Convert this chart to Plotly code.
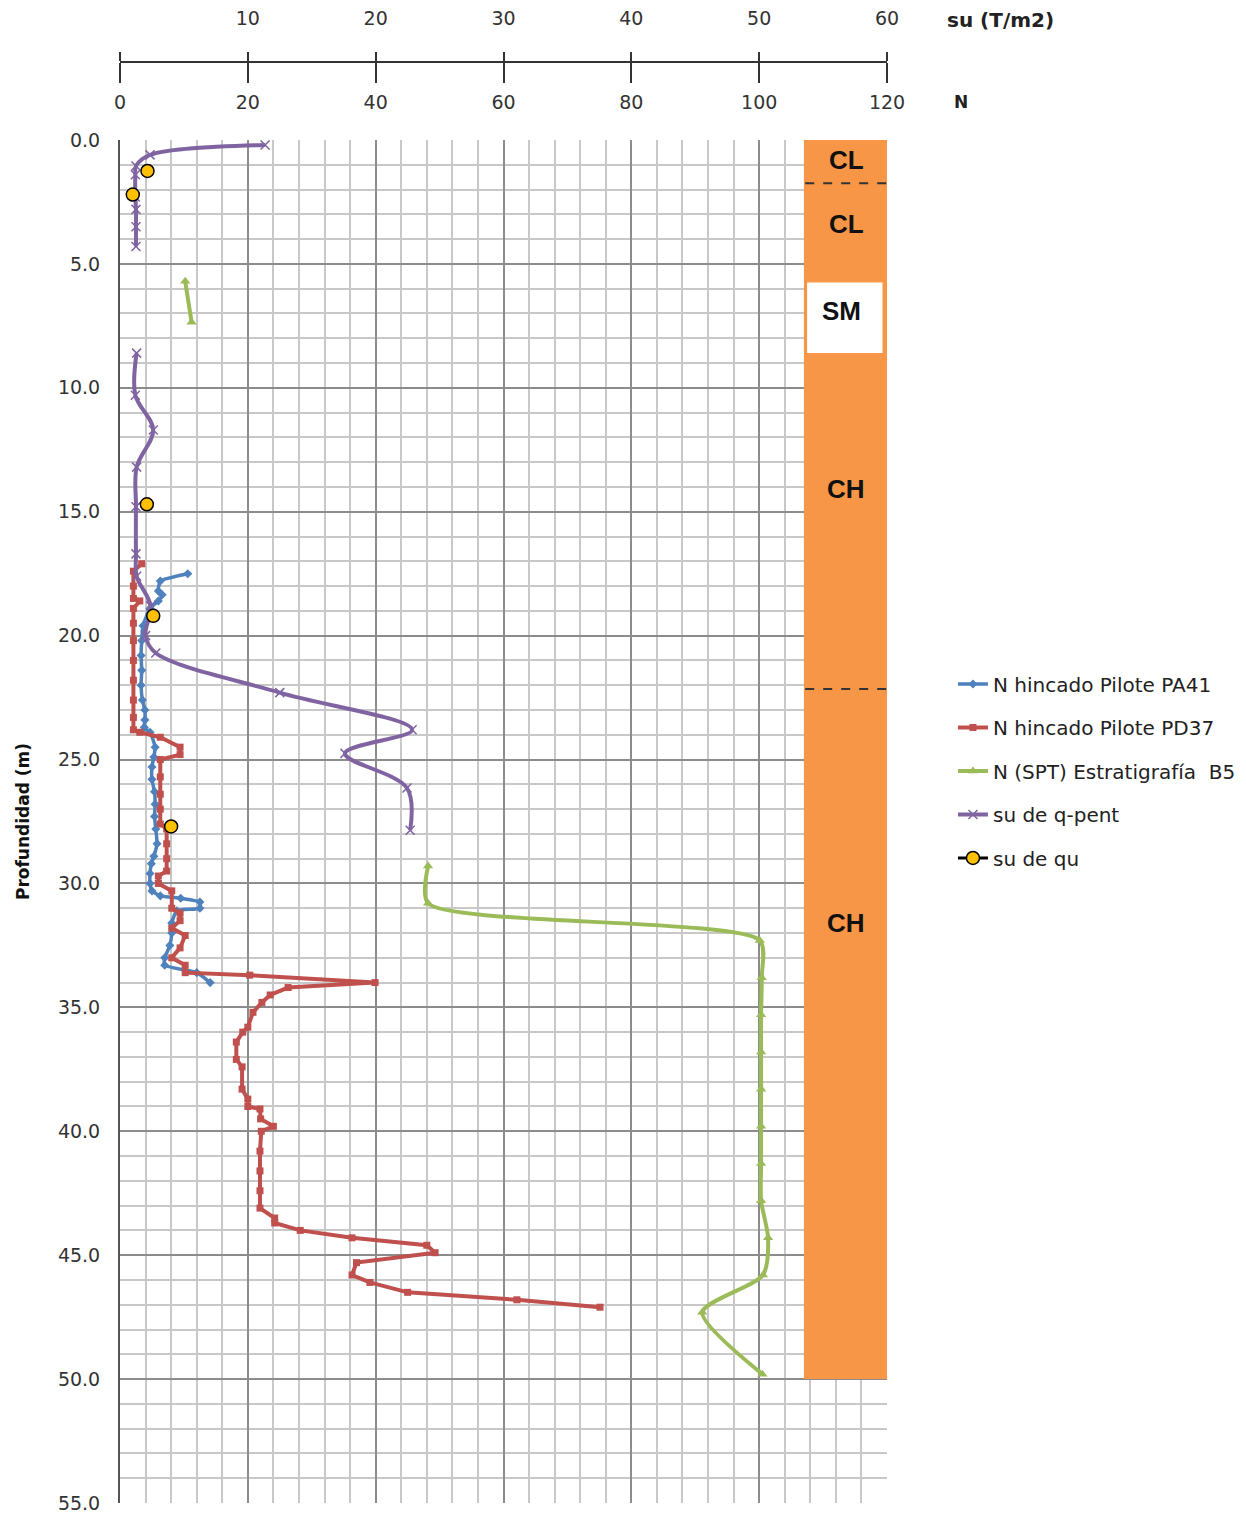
import plotly.graph_objects as go

# ---------------- data ----------------
# N hincado Pilote PA41 (N, depth m)
pa41_n = [10.6, 6.3, 6.0, 6.6, 6.0, 4.7, 3.6, 3.4, 3.3, 3.4, 3.3, 3.5, 3.9, 3.9, 3.8, 4.7, 5.5, 5.3,
          5.0, 5.0, 5.4, 5.5, 5.4, 5.6, 5.8, 5.3, 4.9, 4.7, 4.7, 5.0, 6.3, 9.5, 12.5, 12.5, 8.9,
          8.1, 8.1, 7.8, 7.0, 7.0, 12.0, 14.1]
pa41_d = [17.5, 17.8, 18.2, 18.35, 18.6, 18.9, 19.6, 20.2, 20.8, 21.4, 22.0, 22.6, 23.0, 23.4, 23.7,
          23.9, 24.5, 24.9, 25.3, 25.8, 26.3, 26.8, 27.3, 27.8, 28.4, 28.9, 29.2, 29.6, 30.0, 30.3,
          30.5, 30.6, 30.75, 31.0, 31.1, 31.6, 32.0, 32.5, 33.0, 33.3, 33.6, 34.0]

# N hincado Pilote PD37 (N, depth m)
pd37_n = [3.4, 2.1, 2.1, 2.1, 3.1, 2.1, 2.1, 2.1, 2.1, 2.1, 2.1, 2.1, 2.1, 3.1, 6.3, 9.4, 9.4, 6.3,
          6.3, 6.3, 6.3, 6.3, 7.3, 7.3, 7.3, 7.3, 6.0, 6.0, 8.1, 8.1, 9.4, 9.4, 8.1, 10.2, 9.4, 8.1,
          10.2, 10.2, 20.3, 39.9, 26.3, 23.5, 22.2, 20.8, 20.0, 19.2, 18.2, 18.2, 19.1, 19.1, 20.0,
          20.0, 21.9, 22.0, 24.0, 22.1, 21.9, 21.9, 21.9, 21.9, 24.2, 24.2, 28.2, 36.3, 48.0, 49.3,
          37.0, 36.3, 39.1, 45.0, 62.1, 75.1]
pd37_d = [17.1, 17.4, 18.0, 18.5, 18.6, 18.9, 19.5, 20.2, 21.0, 21.8, 22.6, 23.3, 23.8, 23.9, 24.1,
          24.5, 24.8, 25.0, 25.7, 26.4, 27.0, 27.6, 27.8, 28.4, 29.0, 29.5, 29.7, 30.0, 30.3, 31.0,
          31.2, 31.5, 31.8, 32.1, 32.6, 33.0, 33.3, 33.6, 33.7, 34.0, 34.2, 34.5, 34.8, 35.2, 35.8,
          36.0, 36.4, 37.1, 37.4, 38.3, 38.7, 39.0, 39.1, 39.5, 39.8, 40.0, 40.8, 41.6, 42.4, 43.1,
          43.5, 43.7, 44.0, 44.3, 44.6, 44.9, 45.3, 45.8, 46.1, 46.5, 46.8, 47.1]

# N (SPT) Estratigrafia B5 (None = gap)
spt_n = [10.2, 11.2, None, 48.2, 48.2, 100.1, 100.4, 100.3, 100.3, 100.3, 100.3, 100.3, 100.3,
         101.4, 100.6, 91.1, 100.5]
spt_d = [5.7, 7.35, None, 29.3, 30.8, 32.3, 33.8, 35.3, 36.8, 38.3, 39.8, 41.3, 42.8,
         44.3, 45.8, 47.3, 49.8]

# su de q-pent (T/m2)
supent_su = [11.35, 2.35, 1.25, 1.2, 1.2, 1.25, 1.25, 1.25, None,
             1.3, 1.2, 2.6, 1.3, 1.25, 1.25, 1.3, 2.4, 2.0, 2.8, 12.5, 22.85, 17.6, 22.45, 22.7]
supent_d = [0.2, 0.6, 1.05, 1.4, 2.3, 2.8, 3.5, 4.3, None,
            8.6, 10.3, 11.7, 13.2, 14.8, 16.7, 17.6, 18.8, 20.0, 20.7, 22.3, 23.8, 24.75, 26.15, 27.85]

# su de qu (T/m2)
suqu_su = [2.15, None, 1.0, None, 2.1, None, 2.6, None, 4.0]
suqu_d = [1.25, None, 2.2, None, 14.7, None, 19.2, None, 27.7]

# axes ticks
depth_ticks = [0, 5, 10, 15, 20, 25, 30, 35, 40, 45, 50, 55]
depth_ticktext = ["0.0", "5.0", "10.0", "15.0", "20.0", "25.0", "30.0", "35.0", "40.0", "45.0", "50.0", "55.0"]
n_ticks = [0, 20, 40, 60, 80, 100, 120]
su_ticks = [0, 10, 20, 30, 40, 50, 60]
su_ticktext = ["", "10", "20", "30", "40", "50", "60"]

# stratigraphy
strata_labels = ["CL", "CL", "SM", "CH", "CH"]
strata_label_depth = [0.8, 3.4, 6.9, 14.1, 31.6]
contact_depths = [1.75, 22.15]
sm_top, sm_bottom = 5.75, 8.6
column_bottom = 50.0

# ---------------- figure ----------------
FONT = "DejaVu Sans"
BLUE, RED, GREEN, PURPLE, YELLOW = "#4F81BD", "#C0504D", "#9BBB59", "#8064A2", "#FFC000"

fig = go.Figure()
fig.add_trace(go.Scatter(x=pa41_n, y=pa41_d, mode="lines+markers", name="N hincado Pilote PA41",
                         line=dict(color=BLUE, width=3.5, shape="spline", smoothing=0.5),
                         marker=dict(symbol="diamond", size=7, color=BLUE),
                         legendgroup="a", xaxis="x", yaxis="y"))
fig.add_trace(go.Scatter(x=pd37_n, y=pd37_d, mode="lines+markers", name="N hincado Pilote PD37",
                         line=dict(color=RED, width=4),
                         marker=dict(symbol="square", size=7, color=RED),
                         legendgroup="b", xaxis="x", yaxis="y"))
fig.add_trace(go.Scatter(x=spt_n, y=spt_d, mode="lines+markers", name="N (SPT) Estratigrafía  B5",
                         line=dict(color=GREEN, width=4, shape="spline", smoothing=0.7),
                         marker=dict(symbol="triangle-up", size=9, color=GREEN),
                         legendgroup="c", xaxis="x3", yaxis="y"))
fig.add_trace(go.Scatter(x=supent_su, y=supent_d, mode="lines+markers", name="su de q-pent",
                         line=dict(color=PURPLE, width=4, shape="spline"),
                         marker=dict(symbol="x-thin", size=9, color=PURPLE,
                                     line=dict(color=PURPLE, width=1.5)),
                         legendgroup="d", xaxis="x2", yaxis="y"))
fig.add_trace(go.Scatter(x=suqu_su, y=suqu_d, mode="lines+markers", name="su de qu",
                         line=dict(color="black", width=3),
                         marker=dict(symbol="circle", size=13, color=YELLOW,
                                     line=dict(color="black", width=1.5)),
                         legendgroup="e", xaxis="x2", yaxis="y"))

# stratigraphic column
shapes = [
    dict(type="rect", xref="x", yref="y", x0=107, x1=120, y0=0, y1=column_bottom,
         fillcolor="#F79646", line=dict(width=0), layer="above"),
    dict(type="rect", xref="x", yref="y", x0=107.5, x1=119.3, y0=sm_top, y1=sm_bottom,
         fillcolor="white", line=dict(width=0), layer="above"),
]
for d in contact_depths:
    shapes.append(dict(type="line", xref="x", yref="y", x0=107.2, x1=120, y0=d, y1=d,
                       line=dict(color="#333333", width=2, dash="dash"), layer="above"))

annotations = []
for lab, d in zip(strata_labels, strata_label_depth):
    annotations.append(dict(x=113.6, y=d, xref="x", yref="y", text="<b>%s</b>" % lab,
                            xshift=(-5 if lab == "SM" else 0),
                            showarrow=False, font=dict(family="Liberation Sans", size=26, color="#111111")))
annotations.append(dict(x=1.0756, y=1.029, xref="paper", yref="paper", text="<b>su (T/m2)</b>",
                        xanchor="left", yanchor="middle", showarrow=False,
                        font=dict(family=FONT, size=20, color="#222222")))
annotations.append(dict(x=1.0847, y=0.972, xref="paper", yref="paper", text="<b>N</b>",
                        xanchor="left", yanchor="middle", showarrow=False,
                        font=dict(family=FONT, size=17, color="#222222")))

W, H = 1238, 1507          # page has an 8px body margin
plot_top = (1495 - 132) / (H - 54 - 12)

fig.update_layout(
    width=W, height=H,
    margin=dict(l=112, r=359, t=54, b=12, autoexpand=False),
    paper_bgcolor="white", plot_bgcolor="white",
    font=dict(family=FONT, size=19, color="#333333"),
    shapes=shapes, annotations=annotations,
    legend=dict(x=1.086, xanchor="left", y=0.508, yanchor="middle",
                font=dict(family=FONT, size=20, color="#222222"),
                tracegroupgap=14.5, bgcolor="rgba(0,0,0,0)"),
    yaxis=dict(domain=[0, plot_top], range=[55, 0], tickvals=depth_ticks, ticktext=depth_ticktext,
               showgrid=True, gridcolor="#8c8c8c", gridwidth=1.5,
               minor=dict(dtick=1, showgrid=True, gridcolor="#c8c8c8", gridwidth=1.5),
               showline=True, linecolor="#555555", linewidth=2, zeroline=False,
               ticks="", ticklabelstandoff=14,
               title=dict(text="<b>Profundidad (m)</b>", font=dict(family=FONT, size=17, color="#111111"),
                          standoff=24)),
    xaxis=dict(anchor="y", range=[0, 120], dtick=20, showticklabels=False, ticks="",
               showgrid=True, gridcolor="#8c8c8c", gridwidth=1.5,
               minor=dict(dtick=4, showgrid=True, gridcolor="#c8c8c8", gridwidth=1.5),
               showline=False, zeroline=False),
    xaxis2=dict(overlaying="x", anchor="free", position=1, side="top", range=[0, 60],
                tickvals=su_ticks, ticktext=su_ticktext, ticks="outside", ticklen=9, tickwidth=2,
                tickcolor="#333333", showline=True, linecolor="#333333", linewidth=2,
                showgrid=False, zeroline=False, ticklabelstandoff=19),
    xaxis3=dict(overlaying="x", anchor="free", position=1, side="bottom", range=[0, 120],
                tickvals=n_ticks, ticks="outside", ticklen=20, tickwidth=2, tickcolor="#333333",
                showline=True, linecolor="#333333", linewidth=2,
                showgrid=False, zeroline=False, ticklabelstandoff=3),
)

fig.write_html("out.html")
